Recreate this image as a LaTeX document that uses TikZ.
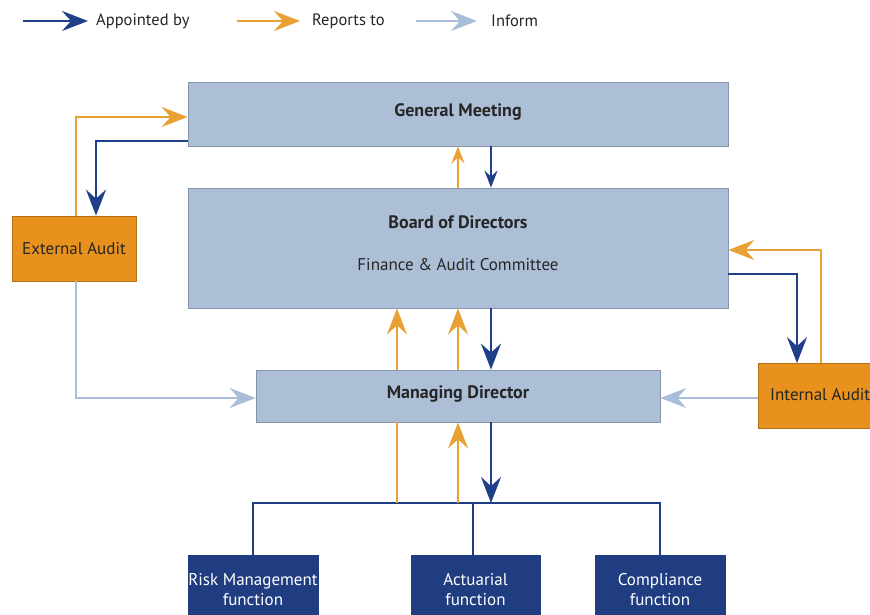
\documentclass[tikz,border=0pt]{standalone}
\usepackage{fontspec}
\setmainfont{PT Sans}
\usetikzlibrary{arrows.meta,calc}
\definecolor{boxfill}{HTML}{ADBFD6}
\definecolor{boxedge}{HTML}{8595AA}
\definecolor{orfill}{HTML}{E8911D}
\definecolor{oredge}{HTML}{B8701A}
\definecolor{navy}{HTML}{1F3D80}
\definecolor{darkline}{HTML}{1F3F88}
\definecolor{orline}{HTML}{E9A136}
\definecolor{ltline}{HTML}{A8BED8}
\newcommand\ftxt{\fontsize{17}{20}\selectfont}
\newcommand\fbig{\fontsize{18}{20}\selectfont}
\newcommand\fleg{\fontsize{16.5}{20}\selectfont}
\tikzset{
  bluebox/.style={draw=boxedge, line width=0.8pt, fill=boxfill, inner sep=0pt},
  orbox/.style={draw=oredge, line width=0.8pt, fill=orfill, inner sep=0pt, font=\ftxt, text=black!85},
  navybox/.style={draw=navy, fill=navy, inner sep=0pt, font=\ftxt, text=white, align=center},
  bigtip/.style={-{Stealth[length=26pt,width=20pt,inset=9pt]}},
  smalltip/.style={-{Stealth[length=17pt,width=13pt,inset=6pt]}},
  apptline/.style={draw=darkline, line width=2.2pt, color=darkline},
  repline/.style={draw=orline, line width=2.2pt, color=orline},
  infline/.style={draw=ltline, line width=2.2pt, color=ltline},
  treeline/.style={draw=navy, line width=2pt},
  lbl/.style={font=\ftxt, text=black!85, inner sep=0pt},
  leg/.style={font=\fleg, text=black!85, inner sep=0pt},
  btitle/.style={font=\fbig\bfseries, text=black!85, inner sep=0pt}
}
\begin{document}
\begin{tikzpicture}[x=1pt,y=-1pt]
\clip (0,0) rectangle (870,615);
\fill[white] (0,0) rectangle (870,615);

% legend
\coordinate (la1) at (23,21); \coordinate (la2) at (88,21);
\coordinate (lb1) at (237,21); \coordinate (lb2) at (300,21);
\coordinate (lc1) at (416,21); \coordinate (lc2) at (477,21);
\draw[apptline,bigtip] (la1) -- (la2);
\draw[repline,bigtip] (lb1) -- (lb2);
\draw[infline,bigtip] (lc1) -- (lc2);
\node[leg,anchor=west] (lta) at (96,21) {Appointed by};
\node[leg,anchor=west] (ltb) at (312,21) {Reports to};
\node[leg,anchor=west] (ltc) at (491,21) {Inform};

% main boxes
\node[bluebox, minimum width=540pt, minimum height=64pt] (gm) at (458,114) {};
\node[btitle] (gmt) at (458,112) {General Meeting};
\node[bluebox, minimum width=540pt, minimum height=120pt] (bod) at (458,248) {};
\node[btitle] (bodt) at (458,222) {Board of Directors};
\node[lbl] (fac) at (458,265) {Finance \& Audit Committee};
\node[bluebox, minimum width=404pt, minimum height=52pt] (md) at (458,396) {};
\node[btitle] (mdt) at (458,394) {Managing Director};

\node[orbox, minimum width=124pt, minimum height=65pt] (ea) at (74,248.5) {External Audit};
\node[orbox, minimum width=124pt, minimum height=65pt] (ia) at (820,396) {};
\node[lbl, anchor=west] (iat) at (770,395) {Internal Audit};

\node[navybox, minimum width=130pt, minimum height=70pt] (risk) at (253,590) {Risk Management\\function};
\node[navybox, minimum width=129pt, minimum height=70pt] (act) at (475.5,590) {Actuarial\\function};
\node[navybox, minimum width=130pt, minimum height=70pt] (comp) at (660,590) {Compliance\\function};

% External audit connectors
\draw[repline,bigtip] ([xshift=2pt]ea.north) |- ([yshift=-3pt]gm.west);
\draw[apptline,bigtip] ([yshift=5pt]gm.south west) -| ([xshift=22pt]ea.north);
\draw[infline,bigtip] ([xshift=2pt]ea.south) |- ([yshift=-2pt]md.west);

% GM <-> BoD
\draw[repline,smalltip] (bod.north) -- (gm.south);
\draw[apptline,smalltip] ([xshift=33pt]gm.south) -- ([xshift=33pt]bod.north);

% Internal audit connectors
\draw[repline,bigtip] ([xshift=1pt]ia.north) |- ([yshift=-2pt]bod.east);
\draw[apptline,bigtip] ([yshift=-26pt]bod.east) -| ([xshift=-23pt]ia.north);
\draw[infline,bigtip] ([yshift=-2pt]ia.west) -- ([yshift=-2pt]md.east);

% BoD <-> MD
\draw[repline,bigtip] ([xshift=-61pt]md.north) -- ([xshift=-61pt]bod.south);
\draw[repline,bigtip] (md.north) -- (bod.south);
\draw[apptline,bigtip] ([xshift=33pt]bod.south) -- ([xshift=33pt]md.north);

% MD <-> functions
\coordinate (busy) at (458,503);
\coordinate (o1) at ([xshift=-61pt]md.south);
\coordinate (d1) at ([xshift=33pt]md.south);
\draw[treeline] (risk.north) -- (risk.north |- busy) -- (comp.north |- busy) -- (comp.north);
\draw[treeline] ([xshift=-2.5pt]act.north) -- ([xshift=-2.5pt]act.north |- busy);
\draw[repline] (o1 |- busy) -- (o1);
\draw[repline,bigtip] (md.south |- busy) -- (md.south);
\draw[apptline,bigtip] (d1) -- (d1 |- busy);
\end{tikzpicture}
\end{document}
